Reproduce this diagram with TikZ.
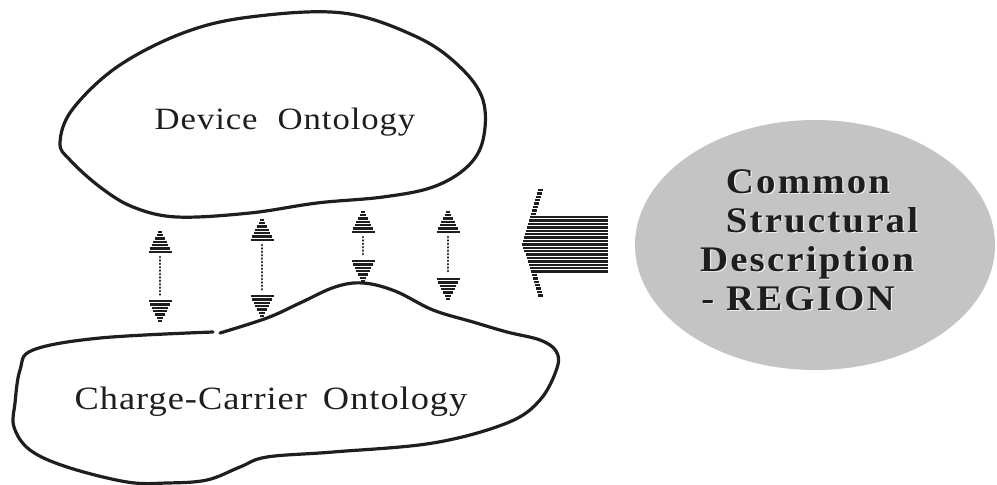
\documentclass[tikz,border=0pt]{standalone}
\usepackage{fontspec}
\setmainfont{Liberation Serif}
\newfontfamily\lsfont[LetterSpace=3,FakeStretch=1.12]{Liberation Serif}
\newfontfamily\lsbfont[LetterSpace=6,FakeStretch=1.08]{Liberation Serif}
\usetikzlibrary{shapes.geometric,calc}
\definecolor{ink}{HTML}{1E1E1E}
\tikzset{
  blob/.style={draw=ink, line width=3.2pt, line join=round, line cap=round},
  stripe/.style={draw=ink, line width=2.3pt},
  shaft/.style={draw=ink, line width=2.8pt, line cap=round, dash pattern=on 0.1pt off 3.3pt},
  ontlabel/.style={text=ink, anchor=base, inner sep=0pt},
  csdlabel/.style={font=\lsbfont\bfseries\fontsize{36}{40}\selectfont, anchor=base, inner sep=0pt},
}
\newcommand\stripvarrow[4]{%
  \coordinate (#1-t) at (#2,#3);
  \coordinate (#1-b) at (#2,#4);
  \foreach \i in {0,...,6}{
    \draw[stripe] ($(#1-t)+(-1.65*\i-1.6, 3.3*\i+1)$) -- ++(3.3*\i+3.2,0);
    \draw[stripe] ($(#1-b)+(-1.65*\i-1.6,-3.3*\i-1)$) -- ++(3.3*\i+3.2,0);
  }
  \draw[shaft] ($(#1-t)+(0,26)$) -- ($(#1-b)+(0,-26)$);
}
\newcommand\csdtext[3]{%
  \node[csdlabel, text=white!92!black] at ($(#1)+(1.4,1.4)$) {#3};
  \node[csdlabel, text=ink] (#2) at (#1) {#3};
}
\begin{document}
\begin{tikzpicture}[x=1pt,y=-1pt]
\useasboundingbox (0,0) rectangle (997,485);

% Device Ontology blob
\draw[blob] plot[smooth cycle, tension=0.6] coordinates {
  (60,143) (72,110) (117,67) (183,33) (250,17) (343,13) (417,37) (460,67)
  (483,100) (483,140) (467,167) (433,187) (383,197) (317,203) (250,213)
  (177,217) (133,207) (100,187) (70,160)};
\node[ontlabel, font=\lsfont\fontsize{31}{36}\selectfont] (dev) at (285,129) {Device\hspace{20pt}Ontology};

% Charge-Carrier Ontology blob (open with a small gap)
\draw[blob] plot[smooth, tension=0.6] coordinates {
  (220,333) (267,318) (300,303) (335,287) (363,283) (395,291) (433,310)
  (473,322) (507,332) (540,340) (556,351) (557,368) (540,400) (507,423)
  (433,443) (333,452) (267,457) (240,467) (207,480) (167,483) (127,482)
  (67,467) (30,450) (14,427) (15,403) (20,370) (33,350) (100,338) (213,332)};
\node[ontlabel, font=\lsfont\fontsize{32.5}{38}\selectfont] (cco) at (271,409) {Charge-Carrier\hspace{16pt}Ontology};

% vertical double-headed striped arrows
\stripvarrow{a1}{160}{231}{322}
\stripvarrow{a2}{262}{219}{317}
\stripvarrow{a3}{363}{211}{282}
\stripvarrow{a4}{448}{211}{300}

% big striped arrow pointing left
\coordinate (bigtip) at (522,243);
\foreach \k in {0,...,31}{
  \pgfmathsetmacro\yy{190+3.4*\k}
  \pgfmathsetmacro\xe{522+16*abs(\yy-243)/53}
  \pgfmathsetmacro\xr{(\yy>214 && \yy<272) ? 608 : \xe+5}
  \draw[stripe] (\xe,\yy) -- (\xr,\yy);
}

% Common Structural Description ellipse
\node[ellipse, fill=black!23, minimum width=360pt, minimum height=250pt, inner sep=0pt] (csd) at (815,245) {};
\coordinate (c1) at (808,193);
\coordinate (c2) at (822,232);
\coordinate (c3) at (807,271);
\coordinate (c4) at (798,310);
\csdtext{c1}{t1}{Common}
\csdtext{c2}{t2}{Structural}
\csdtext{c3}{t3}{Description}
\csdtext{c4}{t4}{- REGION}
\end{tikzpicture}
\end{document}
